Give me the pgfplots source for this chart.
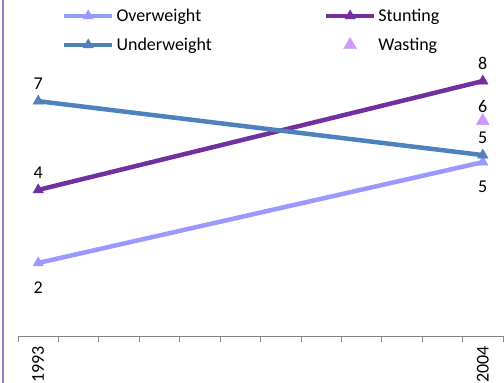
\documentclass[border=0pt]{standalone}
\usepackage{fontspec}
\setmainfont{Carlito}
\usepackage{pgfplots}
\pgfplotsset{compat=1.18}

\definecolor{overw}{RGB}{153,153,255}
\definecolor{stunt}{RGB}{112,48,160}
\definecolor{underw}{RGB}{79,129,189}
\definecolor{wast}{RGB}{204,153,255}
\definecolor{frameline}{RGB}{160,120,200}
\definecolor{axisgray}{RGB}{134,134,134}

\newcommand{\chartfont}{\fontsize{18bp}{21bp}\selectfont}

\begin{document}
\begin{tikzpicture}
\path[use as bounding box] (0,0) rectangle (504bp,383bp);
\draw[frameline, line width=1.5bp] (3bp,0) -- (3bp,383bp);
\begin{axis}[
  at={(18bp,47bp)}, anchor=south west,
  scale only axis, width=485bp, height=335bp,
  xmin=-0.5, xmax=11.5, ymin=0, ymax=10,
  axis y line=none,
  axis x line*=bottom,
  x axis line style={axisgray, line width=0.8bp},
  xtick={0,11}, xticklabels={1993,2004},
  major tick length=0pt,
  minor xtick={-0.5,0.5,...,11.5},
  minor tick length=6bp,
  tick align=outside,
  every minor tick/.style={axisgray, line width=0.8bp},
  xticklabel style={font=\chartfont, rotate=90, anchor=east, inner sep=1bp},
  xticklabel shift=9bp,
  clip=false,
  /pgf/number format/.cd, fixed, precision=0, assume math mode=true,
  /pgfplots/.cd,
  nodes near coords,
  every node near coord/.append style={font=\chartfont, black},
  legend columns=2,
  legend style={draw=none, fill=none, font=\chartfont,
    at={(44bp,329bp)}, anchor=north west,
    nodes={inner xsep=2bp},
    /tikz/column 2/.style={column sep=110bp},
    row sep=11bp,
    inner sep=0pt, outer sep=0pt},
  legend cell align=left,
  legend image code/.code={\draw[mark repeat=2, mark phase=2, #1]
    plot coordinates {(0bp,0bp) (24bp,0bp) (48bp,0bp)};},
]
% Overweight
\addplot[overw, line width=4.5bp, mark=triangle*, mark size=6bp,
  mark options={solid, line width=0.5bp},
  every node near coord/.append style={anchor=north, yshift=-15bp}]
  coordinates {(0,2.18) (11,5.19)};
\addlegendentry{Overweight}
% Stunting
\addplot[stunt, line width=4.5bp, mark=triangle*, mark size=6bp,
  mark options={solid, line width=0.5bp},
  every node near coord/.append style={anchor=south, yshift=8bp}]
  coordinates {(0,4.36) (11,7.61)};
\addlegendentry{Stunting}
% Underweight
\addplot[underw, line width=4.5bp, mark=triangle*, mark size=6bp,
  mark options={solid, line width=0.5bp},
  every node near coord/.append style={anchor=south, yshift=8bp}]
  coordinates {(0,7.01) (11,5.40)};
\addlegendentry{Underweight}
% Wasting
\addplot[wast, only marks, mark=triangle*, mark size=7.5bp,
  every node near coord/.append style={anchor=south, yshift=5bp}]
  coordinates {(11,6.42)};
\addlegendentry{Wasting}
\end{axis}
\end{tikzpicture}
\end{document}
